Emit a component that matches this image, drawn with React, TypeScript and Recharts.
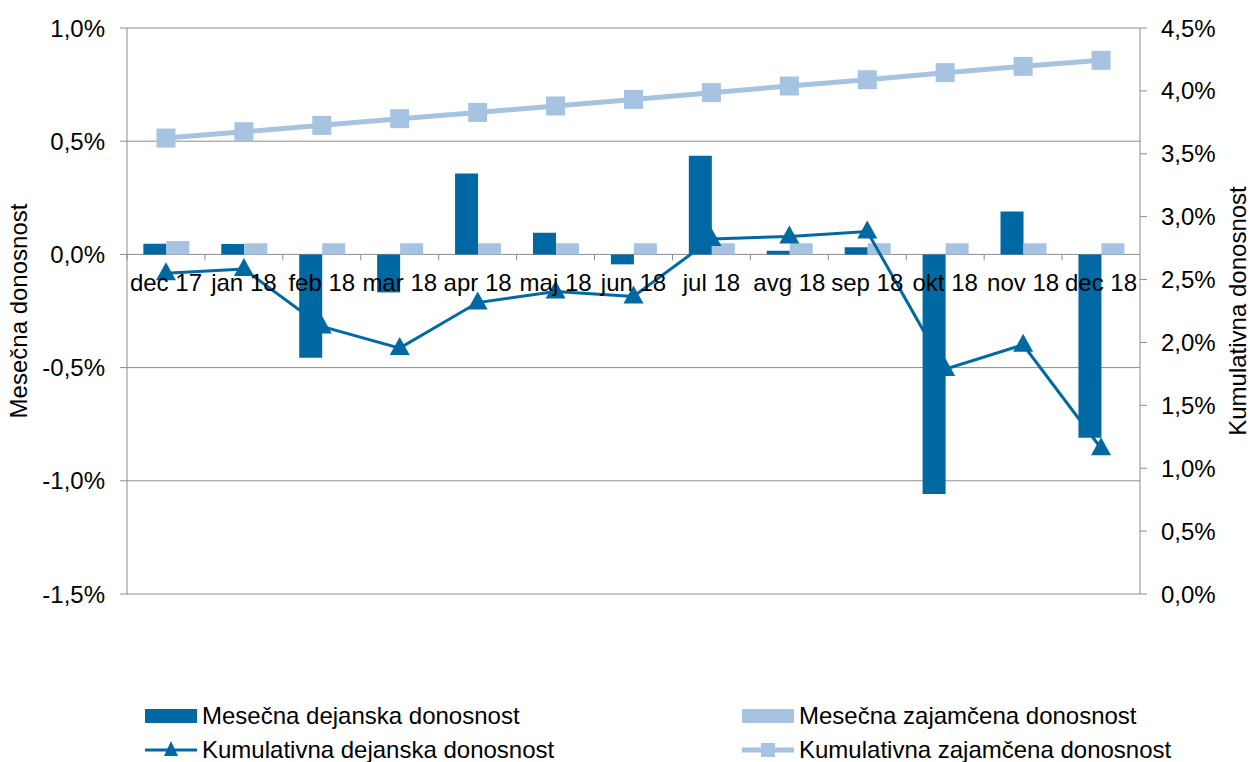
import {
  ComposedChart,
  Bar,
  Line,
  XAxis,
  YAxis,
  CartesianGrid,
} from "recharts";

const categories = [
  "dec 17", "jan 18", "feb 18", "mar 18", "apr 18", "maj 18", "jun 18",
  "jul 18", "avg 18", "sep 18", "okt 18", "nov 18", "dec 18",
];
const monthlyActual = [
  0.047, 0.046, -0.457, -0.168, 0.357, 0.096, -0.044, 0.436, 0.016, 0.032,
  -1.058, 0.189, -0.81,
];
const monthlyGuaranteed = [
  0.059, 0.049, 0.049, 0.049, 0.049, 0.049, 0.049, 0.049, 0.049, 0.049,
  0.049, 0.049, 0.049,
];
const cumulativeActual = [
  2.551, 2.583, 2.127, 1.955, 2.317, 2.405, 2.365, 2.822, 2.843, 2.882,
  1.788, 1.981, 1.159,
];
const cumulativeGuaranteed = [
  3.625, 3.675, 3.726, 3.779, 3.829, 3.88, 3.932, 3.986, 4.039, 4.089,
  4.145, 4.195, 4.243,
];
const leftTicks = [-1.5, -1, -0.5, 0, 0.5, 1];
const rightTicks = [0, 0.5, 1, 1.5, 2, 2.5, 3, 3.5, 4, 4.5];

const data = categories.map((name, i) => ({
  name,
  monthlyActual: monthlyActual[i],
  monthlyGuaranteed: monthlyGuaranteed[i],
  cumulativeActual: cumulativeActual[i],
  cumulativeGuaranteed: cumulativeGuaranteed[i],
}));

const DARK = "#0069a3";
const LIGHT = "#a6c3e1";
const GRID = "#8c8c8c";
const FONT = '"Liberation Sans", Arial, sans-serif';
const FS = 24;

const W = 1250;
const H = 762;
const TOP = 28;
const LEFT_W = 127;
const RIGHT_W = 110;
const X_AXIS_H = 30;
const BOTTOM = 138;
const PLOT_H = H - TOP - BOTTOM - X_AXIS_H;
const PLOT_W = W - LEFT_W - RIGHT_W;
const BAND = PLOT_W / categories.length;
const LEFT_MIN = leftTicks[0];
const LEFT_MAX = leftTicks[leftTicks.length - 1];
const ZERO_Y = TOP + (PLOT_H * LEFT_MAX) / (LEFT_MAX - LEFT_MIN);

const pct = (v: number) => `${v.toFixed(1).replace(".", ",")}%`;

const CategoryTick = (props: any) => {
  const { x, payload } = props;
  return (
    <g>
      <line
        x1={x - BAND / 2}
        x2={x - BAND / 2}
        y1={ZERO_Y}
        y2={ZERO_Y + 6}
        stroke={GRID}
      />
      <text
        x={x}
        y={ZERO_Y + 37}
        textAnchor="middle"
        fontSize={FS}
        fontFamily={FONT}
        fill="#000"
      >
        {payload.value}
      </text>
    </g>
  );
};

const Triangle = (props: any) => {
  const { cx, cy } = props;
  if (cx == null || cy == null) return null;
  return (
    <path
      d={`M${cx},${cy - 11} L${cx + 10},${cy + 7} L${cx - 10},${cy + 7} Z`}
      fill={DARK}
    />
  );
};

const Square = (props: any) => {
  const { cx, cy } = props;
  if (cx == null || cy == null) return null;
  return <rect x={cx - 9.5} y={cy - 9.5} width={19} height={19} fill={LIGHT} />;
};

// both axis titles read bottom-to-top
const AxisTitle = (props: any) => {
  const { viewBox, value, side } = props;
  if (!viewBox) return null;
  const { x, y, width, height } = viewBox;
  const cx = side === "left" ? x + 18 : x + width - 13;
  const cy = y + height / 2;
  return (
    <text
      x={cx}
      y={cy}
      transform={`rotate(-90, ${cx}, ${cy})`}
      textAnchor="middle"
      dominantBaseline="central"
      fontSize={FS}
      fontFamily={FONT}
      fill="#000"
    >
      {value}
    </text>
  );
};

const legendItems = [
  { label: "Mesečna dejanska donosnost", kind: "bar", color: DARK },
  { label: "Mesečna zajamčena donosnost", kind: "bar", color: LIGHT },
  { label: "Kumulativna dejanska donosnost", kind: "triangle", color: DARK },
  { label: "Kumulativna zajamčena donosnost", kind: "square", color: LIGHT },
];

const LegendIcon = ({ kind, color }: { kind: string; color: string }) => (
  <svg width={52} height={20} style={{ display: "block" }}>
    {kind === "bar" && <rect x={0} y={3} width={52} height={14} fill={color} />}
    {kind === "triangle" && (
      <>
        <line x1={0} x2={52} y1={10} y2={10} stroke={color} strokeWidth={3} />
        <path d="M26,1 L33,16 L19,16 Z" fill={color} />
      </>
    )}
    {kind === "square" && (
      <>
        <line x1={0} x2={52} y1={10} y2={10} stroke={color} strokeWidth={5} />
        <rect x={19} y={3} width={14} height={14} fill={color} />
      </>
    )}
  </svg>
);

export default function App() {
  return (
    <div
      style={{
        position: "absolute",
        left: 0,
        top: 0,
        width: W,
        height: H,
        background: "#fff",
        fontFamily: FONT,
      }}
    >
      <ComposedChart
        width={W}
        height={H}
        data={data}
        margin={{ top: TOP, right: 0, left: 0, bottom: BOTTOM }}
        barCategoryGap="21%"
        barGap={0}
      >
        <CartesianGrid
          yAxisId="left"
          vertical={false}
          stroke={GRID}
          strokeWidth={1}
        />
        <YAxis
          yAxisId="left"
          width={LEFT_W}
          domain={[LEFT_MIN, LEFT_MAX]}
          ticks={leftTicks}
          tickFormatter={pct}
          allowDataOverflow
          axisLine={{ stroke: GRID }}
          tickLine={{ stroke: GRID }}
          tickSize={7}
          tickMargin={15}
          tick={{ fill: "#000", fontSize: FS, fontFamily: FONT }}
          label={<AxisTitle value="Mesečna donosnost" side="left" />}
        />
        <YAxis
          yAxisId="right"
          orientation="right"
          width={RIGHT_W}
          domain={[0, 4.5]}
          ticks={rightTicks}
          tickFormatter={pct}
          allowDataOverflow
          axisLine={{ stroke: GRID }}
          tickLine={{ stroke: GRID }}
          tickSize={7}
          tickMargin={14}
          tick={{ fill: "#000", fontSize: FS, fontFamily: FONT }}
          label={<AxisTitle value="Kumulativna donosnost" side="right" />}
        />
        <Bar
          yAxisId="left"
          dataKey="monthlyActual"
          fill={DARK}
          isAnimationActive={false}
        />
        <Bar
          yAxisId="left"
          dataKey="monthlyGuaranteed"
          fill={LIGHT}
          isAnimationActive={false}
        />
        <XAxis
          dataKey="name"
          height={X_AXIS_H}
          axisLine={false}
          tickLine={false}
          interval={0}
          tick={<CategoryTick />}
        />
        <Line
          yAxisId="right"
          dataKey="cumulativeActual"
          stroke={DARK}
          strokeWidth={3}
          dot={<Triangle />}
          activeDot={false}
          isAnimationActive={false}
        />
        <Line
          yAxisId="right"
          dataKey="cumulativeGuaranteed"
          stroke={LIGHT}
          strokeWidth={5}
          dot={<Square />}
          activeDot={false}
          isAnimationActive={false}
        />
      </ComposedChart>
      {legendItems.map((item, i) => (
        <div
          key={item.label}
          style={{
            position: "absolute",
            left: i % 2 === 0 ? 145 : 742,
            top: i < 2 ? 704 : 738,
            display: "flex",
            alignItems: "center",
            gap: 5,
            fontSize: FS,
            lineHeight: "24px",
            color: "#000",
            whiteSpace: "nowrap",
          }}
        >
          <LegendIcon kind={item.kind} color={item.color} />
          <span>{item.label}</span>
        </div>
      ))}
    </div>
  );
}
